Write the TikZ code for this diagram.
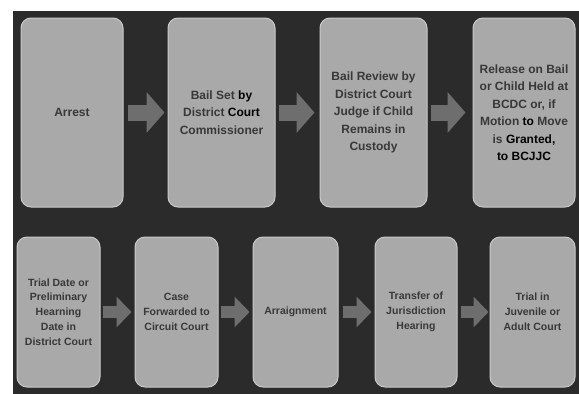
\documentclass[tikz,border=0pt]{standalone}
\usepackage{fontspec}
\setmainfont{Liberation Sans}
\usetikzlibrary{arrows.meta}
\definecolor{bgdark}{HTML}{2B2B2B}
\definecolor{boxfill}{HTML}{A9A9A9}
\definecolor{boxedge}{HTML}{CACACA}
\definecolor{arrowgray}{HTML}{6E6E6E}
\definecolor{txt}{HTML}{383838}
\begin{document}
\begin{tikzpicture}[x=1pt,y=-1pt,
  stepbox/.style={draw=boxedge, line width=1pt, fill=boxfill, rounded corners=10pt,
    inner sep=0pt, align=center, text=txt},
  toprow/.style={stepbox, minimum height=189pt, font=\bfseries\fontsize{12}{17.5}\selectfont},
  botrow/.style={stepbox, minimum height=150pt, font=\bfseries\fontsize{10.5}{14.8}\selectfont},
  flowtop/.style={draw=arrowgray, line width=16pt, -{Triangle[length=18pt,width=40pt]}},
  flowbot/.style={draw=arrowgray, line width=12pt, -{Triangle[length=15pt,width=30pt]}}]
\useasboundingbox (0,0) rectangle (579,394);
\fill[white] (0,0) rectangle (579,394);
\fill[bgdark] (13,11) rectangle (579,394);
% top row
\node[toprow, minimum width=102pt] (b1) at (72,112.5) {Arrest};
\node[toprow, minimum width=107pt] (b2) at (221.5,112.5) {Bail Set {\color{black}by}\\ District {\color{black}Court}\\ Commissioner};
\node[toprow, minimum width=107pt] (b3) at (373.5,112.5) {Bail Review by\\ District Court\\ Judge if Child\\ Remains in\\ Custody};
\node[toprow, minimum width=102pt] (b4) at (524,112.5) {Release on Bail\\ or Child Held at\\ BCDC or, if\\ Motion {\color{black}to} Move\\ is {\color{black}Granted,}\\ {\color{black}to BCJJC}};
% bottom row
\node[botrow, minimum width=83pt] (b5) at (58.5,312) {Trial Date or\\ Preliminary\\ Hearning\\ Date in\\ District Court};
\node[botrow, minimum width=83pt] (b6) at (176.5,312) {Case\\ Forwarded to\\ Circuit Court};
\node[botrow, minimum width=85pt] (b7) at (295.5,312) {Arraignment};
\node[botrow, minimum width=82pt] (b8) at (416,312) {Transfer of\\ Jurisdiction\\ Hearing};
\node[botrow, minimum width=85pt] (b9) at (532.5,312) {Trial in\\ Juvenile or\\ Adult Court};
% arrows
\draw[flowtop] ([xshift=4pt]b1.east) -- ([xshift=-3pt]b2.west);
\draw[flowtop] ([xshift=3pt]b2.east) -- ([xshift=-5pt]b3.west);
\draw[flowtop] ([xshift=3pt]b3.east) -- ([xshift=-7pt]b4.west);
\draw[flowbot] ([xshift=2pt]b5.east) -- ([xshift=-3pt]b6.west);
\draw[flowbot] ([xshift=2pt]b6.east) -- ([xshift=-3pt]b7.west);
\draw[flowbot] ([xshift=4pt]b7.east) -- ([xshift=-3pt]b8.west);
\draw[flowbot] ([xshift=3pt]b8.east) -- ([xshift=-1pt]b9.west);
\end{tikzpicture}
\end{document}
